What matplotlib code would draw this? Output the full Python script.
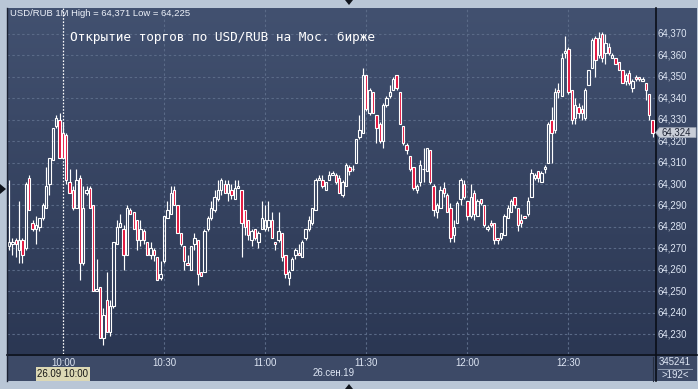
import numpy as np
import pandas as pd
import matplotlib
matplotlib.use("Agg")
import matplotlib.pyplot as plt
from matplotlib.patches import Rectangle, Polygon
from matplotlib.lines import Line2D
from matplotlib.transforms import blended_transform_factory

# ---------------- data (USD/RUB, 1-minute candles, 26.09.2019) ----------------
start_time = "2019-09-26 09:44"
opens = [
    64.271,64.272,64.274,64.269,64.274,64.270,64.303,64.282,64.279,64.280,
    64.284,64.289,64.300,64.311,64.327,64.330,64.324,64.323,64.301,64.297,
    64.289,64.303,64.263,64.296,64.298,64.290,64.250,64.252,64.228,64.246,
    64.231,64.243,64.272,64.280,64.279,64.267,64.288,64.287,64.283,64.274,
    64.278,64.273,64.267,64.269,64.266,64.256,64.264,64.284,64.286,64.297,
    64.290,64.277,64.271,64.263,64.260,64.272,64.274,64.259,64.259,64.279,
    64.284,64.288,64.293,64.297,64.300,64.296,64.297,64.293,64.298,64.297,
    64.288,64.283,64.274,64.279,64.273,64.279,64.279,64.280,64.283,64.273,
    64.274,64.277,64.267,64.256,64.260,64.267,64.268,64.266,64.275,64.279,
    64.282,64.288,64.302,64.302,64.297,64.302,64.304,64.304,64.303,64.295,
    64.299,64.308,64.307,64.310,64.322,64.324,64.351,64.333,64.343,64.332,
    64.328,64.320,64.337,64.341,64.344,64.351,64.343,64.327,64.318,64.313,
    64.308,64.297,64.301,64.307,64.306,64.316,64.299,64.287,64.289,64.298,
    64.295,64.289,64.276,64.282,64.293,64.300,64.292,64.285,64.296,64.285,
    64.293,64.290,64.279,64.282,64.282,64.275,64.275,64.276,64.284,64.287,
    64.294,64.289,64.283,64.285,64.286,64.294,64.303,64.306,64.301,64.307,
    64.310,64.330,64.325,64.344,64.341,64.361,64.363,64.344,64.331,64.336,
    64.335,64.331,64.346,64.354,64.368,64.360,64.370,64.361,64.364,64.359,
    64.359,64.357,64.353,64.348,64.352,64.345,64.350,64.350,64.348,64.347,
    64.342,64.330]
highs = [
    64.302,64.275,64.275,64.292,64.275,64.301,64.304,64.283,64.285,64.284,
    64.291,64.308,64.312,64.326,64.332,64.333,64.329,64.324,64.307,64.299,
    64.307,64.304,64.299,64.299,64.299,64.290,64.265,64.252,64.242,64.259,
    64.246,64.273,64.283,64.286,64.281,64.290,64.289,64.287,64.283,64.283,
    64.279,64.273,64.273,64.270,64.266,64.264,64.285,64.292,64.299,64.299,
    64.290,64.277,64.271,64.267,64.271,64.277,64.274,64.259,64.279,64.285,
    64.292,64.297,64.302,64.303,64.302,64.302,64.300,64.302,64.302,64.297,
    64.288,64.283,64.279,64.279,64.278,64.292,64.290,64.292,64.287,64.273,
    64.287,64.277,64.267,64.260,64.266,64.270,64.272,64.274,64.279,64.285,
    64.289,64.303,64.304,64.304,64.301,64.306,64.306,64.305,64.304,64.302,
    64.310,64.309,64.309,64.321,64.332,64.354,64.351,64.345,64.343,64.332,
    64.329,64.338,64.341,64.346,64.350,64.351,64.343,64.327,64.319,64.313,
    64.308,64.300,64.311,64.317,64.317,64.316,64.300,64.291,64.299,64.301,
    64.296,64.291,64.283,64.292,64.303,64.302,64.292,64.300,64.297,64.293,
    64.293,64.290,64.281,64.283,64.282,64.275,64.277,64.286,64.290,64.293,
    64.294,64.289,64.286,64.285,64.294,64.307,64.305,64.306,64.306,64.309,
    64.329,64.336,64.345,64.347,64.361,64.369,64.364,64.344,64.340,64.338,
    64.337,64.345,64.353,64.368,64.369,64.371,64.371,64.370,64.366,64.361,
    64.359,64.357,64.353,64.352,64.353,64.349,64.351,64.350,64.350,64.347,
    64.342,64.330]
lows = [
    64.269,64.267,64.266,64.263,64.263,64.269,64.288,64.278,64.272,64.278,
    64.283,64.289,64.295,64.311,64.326,64.312,64.312,64.300,64.296,64.288,
    64.289,64.255,64.262,64.295,64.289,64.250,64.250,64.228,64.225,64.231,
    64.229,64.242,64.272,64.280,64.260,64.267,64.286,64.279,64.269,64.271,
    64.272,64.267,64.265,64.264,64.255,64.255,64.263,64.284,64.286,64.290,
    64.277,64.271,64.260,64.262,64.260,64.269,64.253,64.257,64.259,64.278,
    64.283,64.287,64.292,64.295,64.296,64.292,64.293,64.293,64.298,64.266,
    64.276,64.274,64.271,64.274,64.270,64.279,64.278,64.278,64.275,64.269,
    64.273,64.264,64.256,64.253,64.260,64.265,64.267,64.266,64.274,64.278,
    64.281,64.288,64.302,64.298,64.297,64.302,64.304,64.300,64.296,64.294,
    64.299,64.304,64.306,64.310,64.321,64.324,64.334,64.332,64.333,64.319,
    64.319,64.317,64.336,64.340,64.344,64.344,64.328,64.318,64.314,64.306,
    64.297,64.296,64.299,64.301,64.306,64.300,64.285,64.284,64.289,64.294,
    64.287,64.273,64.273,64.282,64.290,64.293,64.283,64.284,64.283,64.285,
    64.290,64.280,64.278,64.280,64.272,64.272,64.274,64.276,64.284,64.287,
    64.289,64.278,64.280,64.284,64.285,64.294,64.302,64.301,64.301,64.305,
    64.310,64.310,64.324,64.340,64.341,64.359,64.342,64.328,64.328,64.331,
    64.330,64.330,64.346,64.354,64.350,64.359,64.357,64.356,64.360,64.359,
    64.356,64.353,64.347,64.346,64.346,64.343,64.348,64.348,64.348,64.339,
    64.330,64.322]
closes = [
    64.273,64.273,64.272,64.274,64.267,64.300,64.288,64.279,64.281,64.284,
    64.290,64.299,64.312,64.326,64.331,64.312,64.312,64.302,64.296,64.289,
    64.302,64.263,64.289,64.297,64.289,64.250,64.251,64.228,64.239,64.231,
    64.243,64.273,64.280,64.282,64.267,64.289,64.286,64.279,64.274,64.279,
    64.274,64.267,64.270,64.267,64.255,64.258,64.285,64.288,64.296,64.290,
    64.277,64.272,64.264,64.262,64.271,64.275,64.258,64.257,64.278,64.284,
    64.289,64.294,64.297,64.302,64.296,64.300,64.295,64.298,64.299,64.282,
    64.280,64.276,64.278,64.275,64.277,64.284,64.283,64.283,64.275,64.272,
    64.278,64.266,64.258,64.259,64.265,64.269,64.267,64.273,64.279,64.283,
    64.289,64.302,64.303,64.299,64.301,64.304,64.305,64.301,64.296,64.301,
    64.309,64.306,64.307,64.321,64.325,64.351,64.335,64.344,64.333,64.326,
    64.320,64.337,64.340,64.343,64.349,64.345,64.328,64.319,64.316,64.307,
    64.298,64.299,64.309,64.307,64.317,64.301,64.288,64.290,64.297,64.296,
    64.287,64.275,64.280,64.291,64.302,64.294,64.285,64.294,64.286,64.292,
    64.291,64.281,64.280,64.281,64.274,64.274,64.277,64.285,64.289,64.292,
    64.290,64.281,64.282,64.284,64.292,64.305,64.304,64.303,64.305,64.308,
    64.328,64.324,64.343,64.343,64.359,64.362,64.343,64.330,64.337,64.333,
    64.333,64.344,64.353,64.367,64.358,64.368,64.359,64.366,64.361,64.360,
    64.356,64.353,64.347,64.351,64.347,64.348,64.349,64.349,64.349,64.344,
    64.332,64.324]
price_ticks = [64.230, 64.240, 64.250, 64.260, 64.270, 64.280, 64.290,
               64.300, 64.310, 64.320, 64.330, 64.340, 64.350, 64.360, 64.370]
time_ticks = ["10:00", "10:30", "11:00", "11:30", "12:00", "12:30"]
header = "USD/RUB 1M High = 64,371 Low = 64,225"
title = "Открытие торгов по USD/RUB на Мос. бирже"
date_label = "26.сен.19"
cursor_label = "26.09 10:00"
cursor_time = "10:00"
volume_label = "345241"
count_label = ">192<"

# ---------------- layout ----------------
W, H = 698, 389
fig = plt.figure(figsize=(W / 100, H / 100), dpi=100, facecolor="#b9c6d6")

def rect(x0, y0, x1, y1):
    return [x0 / W, 1 - y1 / H, (x1 - x0) / W, (y1 - y0) / H]

def fx(px):
    return px / W

def fy(py):
    return 1 - py / H

FONT = "Liberation Sans"
LBL = "#dfe7f5"

# dark gradient background (plot + right scale)
bg = fig.add_axes(rect(7, 8, 697, 354))
top_c = np.array(matplotlib.colors.to_rgb("#425170"))
bot_c = np.array(matplotlib.colors.to_rgb("#2b3753"))
t = np.linspace(0, 1, 256)[:, None, None]
grad = top_c[None, None, :] * (1 - t) + bot_c[None, None, :] * t
bg.imshow(grad, aspect="auto", extent=[0, 1, 0, 1])
bg.set_axis_off()

# bottom time panel
fig.patches.append(Rectangle((fx(7), fy(381)), 690 / W, 27 / H,
                             transform=fig.transFigure, facecolor="#3d4a67",
                             edgecolor="none", zorder=0))

times = pd.date_range(start_time, periods=len(closes), freq="min")
x = ((times - times[0]) / pd.Timedelta(minutes=1)).to_numpy()
o = np.array(opens); h = np.array(highs); l = np.array(lows); c = np.array(closes)
h = np.maximum(h, np.maximum(o, c)); l = np.minimum(l, np.minimum(o, c))

ax = fig.add_axes(rect(7, 8, 655, 354))
ax.set_facecolor("none")
ax.set_xlim(-0.593, 191.69)
ax.set_ylim(64.22068, 64.38213)
ax.set_axis_off()

grid_c = "#5a6a87"
for p in price_ticks:
    ax.axhline(p, color=grid_c, lw=0.8, ls=(0, (2.2, 2.2)), zorder=1)

tick_x = []
for lab in time_ticks:
    tt = pd.Timestamp(start_time[:10] + " " + lab)
    xi = (tt - times[0]) / pd.Timedelta(minutes=1)
    tick_x.append(xi)
    if lab != cursor_time:
        ax.axvline(xi, color=grid_c, lw=0.8, ls=(0, (2.2, 2.2)), zorder=1)

cur_x = (pd.Timestamp(start_time[:10] + " " + cursor_time) - times[0]) / pd.Timedelta(minutes=1)
ax.axvline(cur_x, color="white", lw=0.9, ls=(0, (1.3, 1.3)), zorder=2)

# candles
bw = 0.7
up = c >= o
body_lo = np.minimum(o, c)
body_hi = np.maximum(o, c)
ax.vlines(x, body_hi, h, color="white", lw=0.85, zorder=3)
ax.vlines(x, l, body_lo, color="white", lw=0.85, zorder=3)
ax.bar(x[up], (body_hi - body_lo)[up], bottom=body_lo[up], width=bw,
       facecolor="none", edgecolor="white", linewidth=0.8, zorder=4)
ax.bar(x[~up], (body_hi - body_lo)[~up], bottom=body_lo[~up], width=bw,
       facecolor="#e3103a", edgecolor="white", linewidth=0.8, zorder=4)

# right price scale labels
btr = blended_transform_factory(fig.transFigure, ax.transData)
for p in price_ticks:
    fig.text(fx(658), p, f"{p:.3f}".replace(".", ","), transform=btr,
             fontsize=6.9, family=FONT, color=LBL, va="center", ha="left")

# last price tag
last = c[-1]
ly = ax.transData.transform((0, last))[1]
ly_px = H - ly
tag = Polygon([(fx(655.5), fy(ly_px)), (fx(659.5), fy(ly_px - 5)),
               (fx(696), fy(ly_px - 5)), (fx(696), fy(ly_px + 5)),
               (fx(659.5), fy(ly_px + 5))], closed=True,
              transform=fig.transFigure, facecolor="#c9ced8",
              edgecolor="#9aa3b3", lw=0.5, zorder=5)
fig.patches.append(tag)
fig.text(fx(661), fy(ly_px), f"{last:.3f}".replace(".", ","), fontsize=6.9,
         family=FONT, color="#1c2233", va="center", ha="left", zorder=6)

# frame lines
def fline(x0, y0, x1, y1, color="black", lw=1.0):
    fig.lines.append(Line2D([fx(x0), fx(x1)], [fy(y0), fy(y1)],
                            transform=fig.transFigure, color=color, lw=lw))

fline(7, 354.5, 697, 354.5, "#0a0e18", 1.2)
fline(655.5, 8, 655.5, 381, "#0a0e18", 1.2)
fline(7, 8, 7, 381, "#1b2233", 1.0)
fline(652.5, 357, 652.5, 381, "#262e40", 0.8)
fline(658, 368.5, 692, 368.5, "#8f9bb0", 0.7)

# time labels
for lab, xi in zip(time_ticks, tick_x):
    px = ax.transData.transform((xi, 64.3))[0]
    fig.text(px / W, fy(362.5), lab, fontsize=6.9, family=FONT, color=LBL,
             va="center", ha="center")
fig.text(fx(334), fy(373.5), date_label, fontsize=6.9, family=FONT, color=LBL,
         va="center", ha="center")
cpx = ax.transData.transform((cur_x, 64.3))[0]
fig.text(cpx / W, fy(374), cursor_label, fontsize=6.9, family=FONT,
         color="#151515", va="center", ha="center",
         bbox=dict(boxstyle="square,pad=0.18", facecolor="#dcd8b4",
                   edgecolor="none"))

fig.text(fx(675), fy(362), volume_label, fontsize=6.9, family=FONT, color=LBL,
         va="center", ha="center")
fig.text(fx(675), fy(375), count_label, fontsize=6.9, family=FONT, color=LBL,
         va="center", ha="center")

# header + title
fig.text(fx(10), fy(14), header, fontsize=6.8, family=FONT, color="#eef2fa",
         va="center", ha="left")
fig.text(fx(70), fy(37), title, fontsize=9.2, family="DejaVu Sans Mono",
         color="white", va="center", ha="left")

# small navigation triangles
for pts in ([(0, 184), (6, 189), (0, 194)],
            [(345, 0), (353, 0), (349, 5)],
            [(345, 389), (353, 389), (349, 384)]):
    fig.patches.append(Polygon([(fx(a), fy(b)) for a, b in pts], closed=True,
                               transform=fig.transFigure, facecolor="#10141c",
                               edgecolor="none"))

fig.savefig("out.png", dpi=100, facecolor=fig.get_facecolor())
